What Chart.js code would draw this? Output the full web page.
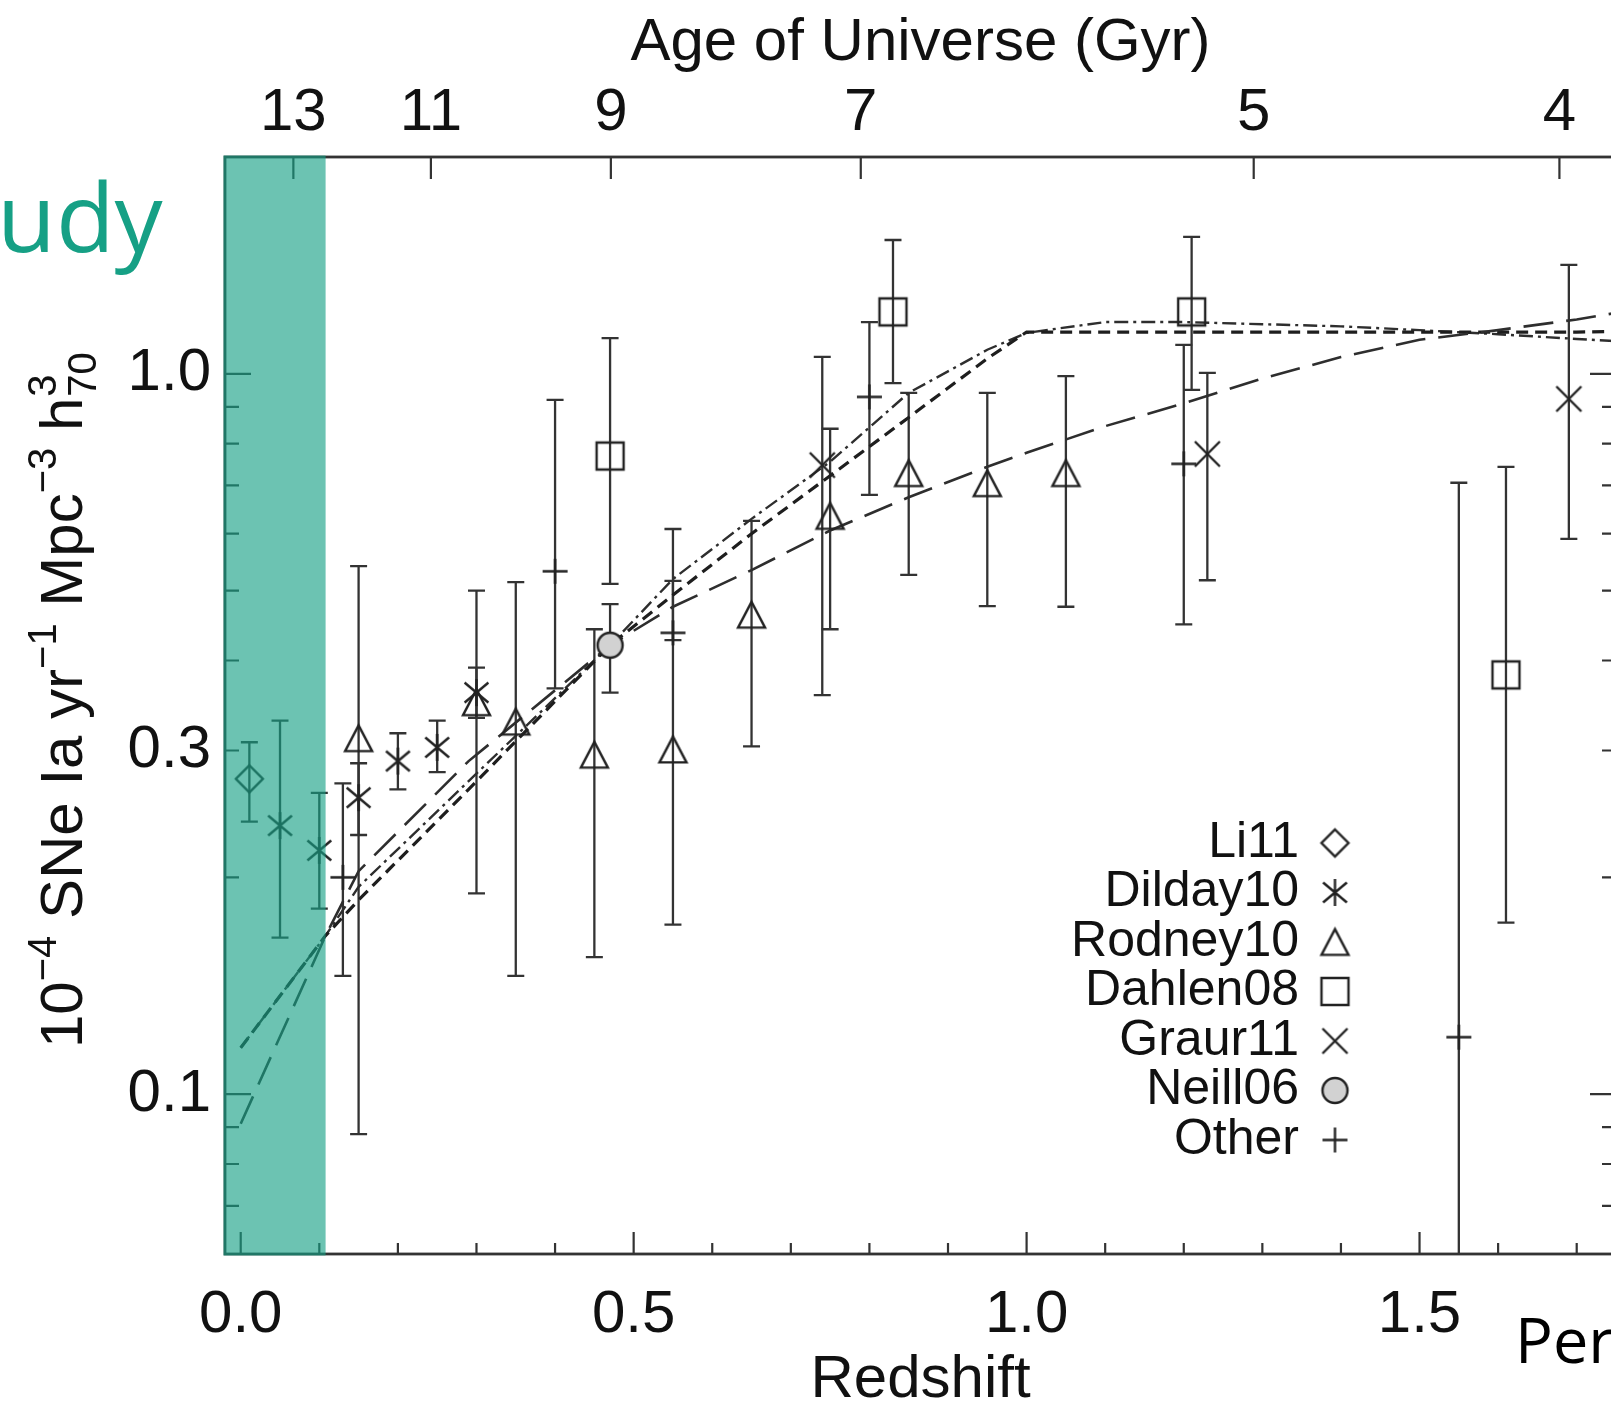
<!DOCTYPE html>
<html>
<head>
<meta charset="utf-8">
<script src="https://cdn.jsdelivr.net/npm/chart.js@4.4.1/dist/chart.umd.min.js"></script>
<style>
  html, body { margin: 0; padding: 0; background: #ffffff; overflow: hidden; width: 1611px; height: 1402px; }
  #wrap { position: absolute; left: 0; top: 0; width: 1640px; height: 1402px; }
</style>
</head>
<body>
<div id="wrap"><canvas id="rates" width="1640" height="1402" style="width:1640px;height:1402px"></canvas></div>
<script>
// ---------- axes ----------
const zMin = -0.02, zMax = 1.75;
const rateMin = 0.06, rateMax = 2.0;
const zLabelTicks = [0.0, 0.5, 1.0, 1.5];
const zMinorTicks = [0.1, 0.2, 0.3, 0.4, 0.6, 0.7, 0.8, 0.9, 1.1, 1.2, 1.3, 1.4, 1.6, 1.7];
const rateLabelTicks = [0.1, 0.3, 1.0];
const rateMajorTicks = [0.1, 1.0];
const rateMinorTicks = [0.07, 0.08, 0.09, 0.2, 0.3, 0.4, 0.5, 0.6, 0.7, 0.8, 0.9];
const ageLabels = ['13', '11', '9', '7', '5', '4'];
const ageAtZ = [0.067, 0.242, 0.471, 0.789, 1.289, 1.678];
const studyZMax = 0.108;

// ---------- measured SN Ia rates (z, rate, lower, upper) ----------
const li11Z = [0.011];
const li11Rate = [0.274];
const li11Lo = [0.239];
const li11Hi = [0.308];

const dilday10Z = [0.05, 0.10, 0.15, 0.20, 0.25, 0.30];
const dilday10Rate = [0.236, 0.218, 0.258, 0.290, 0.303, 0.361];
const dilday10Lo = [0.165, 0.181, 0.229, 0.265, 0.280, 0.333];
const dilday10Hi = [0.330, 0.262, 0.288, 0.317, 0.330, 0.391];

const rodney10Z = [0.15, 0.30, 0.35, 0.45, 0.55, 0.65, 0.75, 0.85, 0.95, 1.05];
const rodney10Rate = [0.312, 0.350, 0.329, 0.296, 0.301, 0.463, 0.635, 0.728, 0.705, 0.728];
const rodney10Lo = [0.088, 0.190, 0.146, 0.155, 0.172, 0.304, 0.442, 0.526, 0.476, 0.475];
const rodney10Hi = [0.541, 0.500, 0.514, 0.442, 0.609, 0.625, 0.839, 0.941, 0.941, 0.993];

const dahlen08Z = [0.47, 0.83, 1.21, 1.61];
const dahlen08Rate = [0.769, 1.219, 1.219, 0.382];
const dahlen08Lo = [0.511, 0.971, 0.950, 0.173];
const dahlen08Hi = [1.121, 1.534, 1.549, 0.743];

const graur11Z = [0.74, 1.23, 1.69];
const graur11Rate = [0.747, 0.774, 0.923];
const graur11Lo = [0.358, 0.517, 0.590];
const graur11Hi = [1.056, 1.003, 1.417];

const neill06Z = [0.47];
const neill06Rate = [0.420];
const neill06Lo = [0.361];
const neill06Hi = [0.479];

const otherZ = [0.13, 0.40, 0.55, 0.80, 1.20, 1.55];
const otherRate = [0.200, 0.532, 0.437, 0.929, 0.750, 0.120];
const otherLo = [0.146, 0.366, 0.427, 0.679, 0.449, 0.040];
const otherHi = [0.270, 0.920, 0.516, 1.180, 1.097, 0.706];

// ---------- model curves ----------
const modelZ = [0, 0.108, 0.15, 0.29, 0.47, 0.55, 0.65, 0.75, 0.85, 0.95, 1.0, 1.1, 1.2, 1.3, 1.4, 1.5, 1.6, 1.7, 1.75];
const modelLongDash = [0.091, 0.166, 0.204, 0.290, 0.420, 0.475, 0.534, 0.606, 0.674, 0.743, 0.777, 0.846, 0.910, 0.985, 1.055, 1.115, 1.150, 1.190, 1.215];
const modelDashDot = [0.116, 0.166, 0.194, 0.272, 0.420, 0.519, 0.629, 0.755, 0.941, 1.080, 1.140, 1.180, 1.180, 1.172, 1.164, 1.150, 1.135, 1.118, 1.110];
const modelDashed = [0.116, 0.166, 0.186, 0.265, 0.420, 0.493, 0.600, 0.722, 0.870, 1.050, 1.143, 1.143, 1.143, 1.143, 1.143, 1.143, 1.143, 1.143, 1.145];

const FONT = "'Liberation Sans', Arimo, Arial, Helvetica, sans-serif";
const INK = '#111111';
const MARK = '#222222';

// symbol sprites used both for the points and the key
function sprite(kind, h) {
  const pad = 4;
  const s = Math.ceil(2 * h + 2 * pad);
  const c = document.createElement('canvas');
  c.width = s; c.height = s;
  const g = c.getContext('2d');
  const m = s / 2;
  g.strokeStyle = MARK; g.lineWidth = 2.4;
  g.beginPath();
  if (kind === 'diamond') {
    g.moveTo(m, m - h); g.lineTo(m + h, m); g.lineTo(m, m + h); g.lineTo(m - h, m); g.closePath();
  } else if (kind === 'asterisk') {
    const a = 40 * Math.PI / 180, r = h * 1.15, dx = r * Math.cos(a), dy = r * Math.sin(a);
    g.moveTo(m, m - h); g.lineTo(m, m + h);
    g.moveTo(m - dx, m - dy); g.lineTo(m + dx, m + dy);
    g.moveTo(m - dx, m + dy); g.lineTo(m + dx, m - dy);
  } else if (kind === 'triangle') {
    g.moveTo(m - h, m + h * 0.95); g.lineTo(m, m - h * 0.95); g.lineTo(m + h, m + h * 0.95); g.closePath();
  } else if (kind === 'square') {
    g.rect(m - h, m - h, 2 * h, 2 * h);
  } else if (kind === 'x') {
    g.moveTo(m - h, m - h); g.lineTo(m + h, m + h);
    g.moveTo(m - h, m + h); g.lineTo(m + h, m - h);
  } else if (kind === 'circle') {
    g.arc(m, m, h, 0, Math.PI * 2);
    g.fillStyle = '#d2d2d2'; g.fill();
  } else if (kind === 'plus') {
    g.moveTo(m - h, m); g.lineTo(m + h, m);
    g.moveTo(m, m - h); g.lineTo(m, m + h);
  }
  g.stroke();
  return c;
}

const symbols = {
  li11: sprite('diamond', 13.5),
  dilday10: sprite('asterisk', 13.5),
  rodney10: sprite('triangle', 13.5),
  dahlen08: sprite('square', 13.5),
  graur11: sprite('x', 12.5),
  neill06: sprite('circle', 12.5),
  other: sprite('plus', 12.5)
};

function pts(zs, vs) { return zs.map((z, i) => ({ x: z, y: vs[i] })); }

function measured(label, key, zs, vs, lo, hi) {
  return {
    label: label,
    data: pts(zs, vs),
    errLo: lo, errHi: hi,
    pointStyle: symbols[key],
    pointRadius: 10,
    pointHoverRadius: 10,
    showLine: false,
    borderColor: MARK,
    backgroundColor: 'rgba(0,0,0,0)'
  };
}

function model(label, vs, dash, width, color) {
  return {
    label: label,
    data: pts(modelZ, vs),
    showLine: true,
    pointRadius: 0,
    borderDash: dash,
    borderWidth: width,
    borderColor: color,
    fill: false,
    tension: 0
  };
}

const datasets = [
  measured('Neill06', 'neill06', neill06Z, neill06Rate, neill06Lo, neill06Hi),
  measured('Li11', 'li11', li11Z, li11Rate, li11Lo, li11Hi),
  measured('Dilday10', 'dilday10', dilday10Z, dilday10Rate, dilday10Lo, dilday10Hi),
  measured('Rodney10', 'rodney10', rodney10Z, rodney10Rate, rodney10Lo, rodney10Hi),
  measured('Dahlen08', 'dahlen08', dahlen08Z, dahlen08Rate, dahlen08Lo, dahlen08Hi),
  measured('Graur11', 'graur11', graur11Z, graur11Rate, graur11Lo, graur11Hi),
  measured('Other', 'other', otherZ, otherRate, otherLo, otherHi),
  model('model A', modelLongDash, [30, 13], 2.6, '#2e2e2e'),
  model('model B', modelDashed, [12, 7], 3.2, '#1e1e1e'),
  model('model C', modelDashDot, [14, 5, 3, 5], 2.4, '#2e2e2e')
];

const keyOrder = ['Li11', 'Dilday10', 'Rodney10', 'Dahlen08', 'Graur11', 'Neill06', 'Other'];
const keySymbols = ['li11', 'dilday10', 'rodney10', 'dahlen08', 'graur11', 'neill06', 'other'];

// vertical error bars with caps, under the symbols
const errorBars = {
  id: 'errorBars',
  beforeDatasetsDraw(chart) {
    const { ctx, chartArea: a, scales } = chart;
    const xs = scales.x, ys = scales.y;
    const cap = 8.5;
    ctx.save();
    ctx.beginPath();
    ctx.rect(a.left, a.top, a.right - a.left, a.bottom - a.top);
    ctx.clip();
    ctx.strokeStyle = '#333333';
    ctx.lineWidth = 2.3;
    chart.data.datasets.forEach(ds => {
      if (!ds.errLo) return;
      ds.data.forEach((p, i) => {
        const px = xs.getPixelForValue(p.x);
        const yl = ys.getPixelForValue(ds.errLo[i]);
        const yh = ys.getPixelForValue(ds.errHi[i]);
        ctx.beginPath();
        ctx.moveTo(px, yl); ctx.lineTo(px, yh);
        ctx.moveTo(px - cap, yl); ctx.lineTo(px + cap, yl);
        ctx.moveTo(px - cap, yh); ctx.lineTo(px + cap, yh);
        ctx.stroke();
      });
    });
    ctx.restore();
  }
};

// frame, inward ticks, key, titles and the shaded low-z band
const decorations = {
  id: 'decorations',
  afterDatasetsDraw(chart) {
    const { ctx, chartArea: a, scales } = chart;
    const xs = scales.x, ys = scales.y;
    ctx.save();

    // box
    ctx.strokeStyle = '#333333';
    ctx.lineWidth = 2.8;
    ctx.strokeRect(a.left, a.top, a.right - a.left, a.bottom - a.top);

    // ticks
    ctx.lineWidth = 2.2;
    ctx.beginPath();
    zLabelTicks.forEach(v => { const p = xs.getPixelForValue(v); ctx.moveTo(p, a.bottom); ctx.lineTo(p, a.bottom - 22); });
    zMinorTicks.forEach(v => { const p = xs.getPixelForValue(v); ctx.moveTo(p, a.bottom); ctx.lineTo(p, a.bottom - 11); });
    ageAtZ.forEach(v => { const p = xs.getPixelForValue(v); ctx.moveTo(p, a.top); ctx.lineTo(p, a.top + 22); });
    rateMajorTicks.forEach(v => {
      const p = ys.getPixelForValue(v);
      ctx.moveTo(a.left, p); ctx.lineTo(a.left + 26, p);
      ctx.moveTo(a.right, p); ctx.lineTo(a.right - 26, p);
    });
    rateMinorTicks.forEach(v => {
      const p = ys.getPixelForValue(v);
      ctx.moveTo(a.left, p); ctx.lineTo(a.left + 14, p);
      ctx.moveTo(a.right, p); ctx.lineTo(a.right - 14, p);
    });
    ctx.stroke();

    // key
    ctx.fillStyle = INK;
    ctx.font = '50px ' + FONT;
    ctx.textAlign = 'right';
    ctx.textBaseline = 'middle';
    keyOrder.forEach((name, i) => {
      const yy = 843 + i * 49.5;
      ctx.fillText(name, 1299, yy);
      const img = symbols[keySymbols[i]];
      ctx.drawImage(img, 1335 - img.width / 2, yy - img.height / 2);
    });

    // axis titles
    ctx.textAlign = 'center';
    ctx.textBaseline = 'alphabetic';
    ctx.font = '60px ' + FONT;
    const cx = (a.left + a.right) / 2;
    ctx.fillText('Age of Universe (Gyr)', cx, 60);
    ctx.fillText('Redshift', cx, 1397);

    // rotated rate title with exponents
    ctx.save();
    ctx.translate(82, 1048);
    ctx.rotate(-Math.PI / 2);
    ctx.textAlign = 'left';
    const big = '60px ' + FONT, small = '40px ' + FONT;
    let pos = 0;
    const run = (t, f, dy) => { ctx.font = f; ctx.fillText(t, pos, dy); pos += ctx.measureText(t).width; };
    run('10', big, 0);
    run('\u22124', small, -26);
    run(' SNe Ia yr', big, 0);
    run('\u22121', small, -26);
    run(' Mpc', big, 0);
    run('\u22123', small, -26);
    run(' h', big, 0);
    ctx.font = small;
    ctx.fillText('3', pos + 1, -26);
    ctx.fillText('70', pos + 1, 14);
    ctx.restore();

    // shaded band for the local sample
    const bandRight = xs.getPixelForValue(studyZMax);
    ctx.fillStyle = 'rgba(22,160,133,0.63)';
    ctx.fillRect(a.left - 1.5, a.top - 1.5, bandRight - a.left + 1.5, a.bottom - a.top + 3);

    // slide text around the figure
    ctx.textAlign = 'left';
    ctx.textBaseline = 'alphabetic';
    ctx.fillStyle = '#16a085';
    ctx.font = "96px 'Open Sans', sans-serif";
    ctx.fillText('udy', -3, 252);
    ctx.fillStyle = '#000000';
    ctx.font = "63px 'Open Sans', sans-serif";
    ctx.fillText('Per', 1515, 1363);

    ctx.restore();
  }
};

Chart.defaults.font.family = FONT;
Chart.defaults.color = INK;

new Chart(document.getElementById('rates').getContext('2d'), {
  type: 'scatter',
  data: { datasets: datasets },
  options: {
    responsive: false,
    animation: false,
    events: [],
    layout: { padding: { left: 0, right: 24, top: 0, bottom: 0 } },
    plugins: { legend: { display: false }, tooltip: { enabled: false } },
    scales: {
      x: {
        type: 'linear', position: 'bottom', min: zMin, max: zMax,
        grid: { display: false, drawTicks: false },
        border: { display: false },
        afterBuildTicks: s => { s.ticks = zLabelTicks.map(v => ({ value: v })); },
        afterFit: s => { s.height = 148; },
        ticks: {
          autoSkip: false, maxRotation: 0, minRotation: 0, padding: 25,
          font: { size: 60, family: FONT }, color: INK,
          callback: v => Number(v).toFixed(1)
        }
      },
      xTop: {
        type: 'linear', axis: 'x', position: 'top', min: zMin, max: zMax,
        grid: { display: false, drawTicks: false },
        border: { display: false },
        afterBuildTicks: s => { s.ticks = ageAtZ.map(v => ({ value: v })); },
        afterFit: s => { s.height = 157; },
        ticks: {
          autoSkip: false, maxRotation: 0, minRotation: 0, padding: 8,
          font: { size: 60, family: FONT }, color: INK,
          callback: (v, i) => ageLabels[i]
        }
      },
      y: {
        type: 'logarithmic', position: 'left', min: rateMin, max: rateMax,
        grid: { display: false, drawTicks: false },
        border: { display: false },
        afterBuildTicks: s => { s.ticks = rateLabelTicks.map(v => ({ value: v })); },
        afterFit: s => { s.width = 225; },
        ticks: {
          autoSkip: false, padding: 14,
          font: { size: 60, family: FONT }, color: INK,
          callback: v => Number(v).toFixed(1)
        }
      }
    }
  },
  plugins: [errorBars, decorations]
});
</script>
</body>
</html>
